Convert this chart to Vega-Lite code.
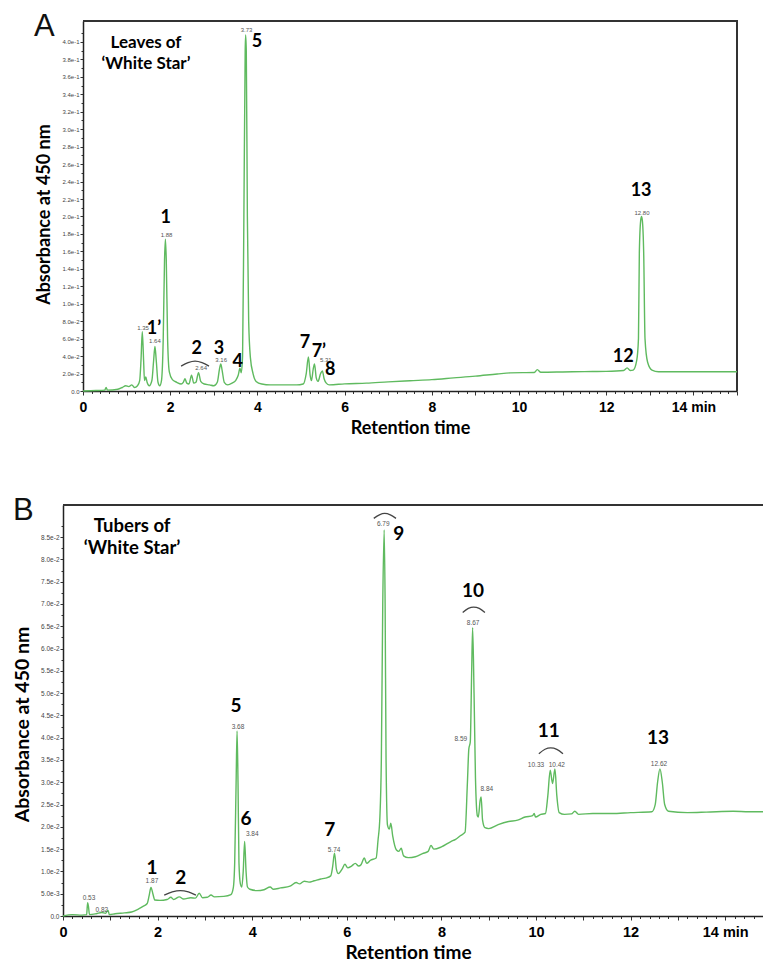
{
  "$schema": "https://vega.github.io/schema/vega-lite/v6.json",
  "background": "white",
  "padding": {"left": 12, "top": 11, "right": 0, "bottom": 0},
  "spacing": 58,
  "config": {
    "font": "Lato",
    "axis": {"grid": false, "domainColor": "#222", "domainWidth": 1.5, "tickColor": "#333", "labelColor": "#000", "titleColor": "#000"},
    "view": {"stroke": null}
  },
  "datasets": {
    "A_trace": [
      {"t":0,"a":0},{"t":0.3,"a":0.0005},{"t":0.5,"a":0.001},{"t":0.53,"a":0.004},{"t":0.56,"a":0.001},{"t":0.8,"a":0.002},{"t":0.9,"a":0.004},{"t":0.98,"a":0.006},{"t":1.05,"a":0.005},{"t":1.12,"a":0.007},{"t":1.18,"a":0.004},{"t":1.25,"a":0.006},{"t":1.3,"a":0.012},{"t":1.33,"a":0.035},{"t":1.36,"a":0.068},{"t":1.39,"a":0.035},{"t":1.41,"a":0.012},{"t":1.44,"a":0.016},{"t":1.47,"a":0.01},{"t":1.52,"a":0.006},{"t":1.58,"a":0.012},{"t":1.62,"a":0.035},{"t":1.65,"a":0.051},{"t":1.68,"a":0.035},{"t":1.72,"a":0.01},{"t":1.76,"a":0.006},{"t":1.8,"a":0.012},{"t":1.84,"a":0.06},{"t":1.87,"a":0.15},{"t":1.89,"a":0.174},{"t":1.91,"a":0.15},{"t":1.94,"a":0.06},{"t":1.98,"a":0.022},{"t":2.05,"a":0.013},{"t":2.15,"a":0.01},{"t":2.25,"a":0.008},{"t":2.3,"a":0.01},{"t":2.34,"a":0.014},{"t":2.38,"a":0.009},{"t":2.43,"a":0.008},{"t":2.49,"a":0.018},{"t":2.54,"a":0.009},{"t":2.59,"a":0.01},{"t":2.65,"a":0.021},{"t":2.7,"a":0.011},{"t":2.78,"a":0.008},{"t":2.9,"a":0.007},{"t":3.0,"a":0.006},{"t":3.08,"a":0.01},{"t":3.13,"a":0.025},{"t":3.16,"a":0.031},{"t":3.19,"a":0.024},{"t":3.24,"a":0.01},{"t":3.32,"a":0.007},{"t":3.42,"a":0.009},{"t":3.5,"a":0.012},{"t":3.56,"a":0.018},{"t":3.6,"a":0.026},{"t":3.63,"a":0.021},{"t":3.66,"a":0.04},{"t":3.69,"a":0.2},{"t":3.72,"a":0.39},{"t":3.73,"a":0.408},{"t":3.745,"a":0.39},{"t":3.77,"a":0.2},{"t":3.8,"a":0.08},{"t":3.84,"a":0.038},{"t":3.9,"a":0.02},{"t":3.97,"a":0.011},{"t":4.1,"a":0.008},{"t":4.3,"a":0.007},{"t":4.6,"a":0.007},{"t":4.9,"a":0.007},{"t":5.05,"a":0.008},{"t":5.12,"a":0.02},{"t":5.17,"a":0.039},{"t":5.21,"a":0.018},{"t":5.24,"a":0.012},{"t":5.28,"a":0.025},{"t":5.31,"a":0.031},{"t":5.35,"a":0.015},{"t":5.39,"a":0.011},{"t":5.45,"a":0.02},{"t":5.49,"a":0.023},{"t":5.53,"a":0.014},{"t":5.58,"a":0.009},{"t":5.65,"a":0.007},{"t":6.0,"a":0.0082},{"t":6.5,"a":0.009},{"t":7.0,"a":0.0105},{"t":7.5,"a":0.0118},{"t":8.0,"a":0.013},{"t":8.5,"a":0.015},{"t":9.0,"a":0.017},{"t":9.5,"a":0.0195},{"t":9.8,"a":0.0208},{"t":10.35,"a":0.0212},{"t":10.42,"a":0.0245},{"t":10.5,"a":0.0215},{"t":11.0,"a":0.0218},{"t":11.5,"a":0.0222},{"t":12.0,"a":0.0225},{"t":12.4,"a":0.0235},{"t":12.48,"a":0.0265},{"t":12.55,"a":0.0235},{"t":12.62,"a":0.024},{"t":12.7,"a":0.035},{"t":12.74,"a":0.06},{"t":12.76,"a":0.158},{"t":12.79,"a":0.195},{"t":12.81,"a":0.2},{"t":12.83,"a":0.195},{"t":12.86,"a":0.158},{"t":12.89,"a":0.06},{"t":12.95,"a":0.033},{"t":13.05,"a":0.024},{"t":13.2,"a":0.022},{"t":13.6,"a":0.022},{"t":14.0,"a":0.022},{"t":14.5,"a":0.022},{"t":15,"a":0.022}
    ],
    "A_peaks": [
      {"t":1.9,"a":0.198,"label":"1"},{"t":1.63,"a":0.071,"label":"1’"},{"t":2.61,"a":0.048,"label":"2"},{"t":3.12,"a":0.048,"label":"3"},{"t":3.55,"a":0.033,"label":"4"},{"t":3.99,"a":0.4,"label":"5"},{"t":5.09,"a":0.055,"label":"7"},{"t":5.41,"a":0.045,"label":"7’"},{"t":5.67,"a":0.024,"label":"8"},{"t":12.39,"a":0.039,"label":"12"},{"t":12.8,"a":0.229,"label":"13"}
    ],
    "A_rt": [
      {"t":1.376,"a":0.072,"label":"1.35"},{"t":1.65,"a":0.057,"label":"1.64"},{"t":1.915,"a":0.179,"label":"1.88"},{"t":2.71,"a":0.026,"label":"2.64"},{"t":3.17,"a":0.036,"label":"3.16"},{"t":3.75,"a":0.414,"label":"3.73"},{"t":5.57,"a":0.036,"label":"5.31"},{"t":12.82,"a":0.204,"label":"12.80"}
    ],
    "A_arcs": [
      {"arc":"a2","t":2.25,"a":0.0285},{"arc":"a2","t":2.41,"a":0.0325},{"arc":"a2","t":2.57,"a":0.0342},{"arc":"a2","t":2.73,"a":0.0325},{"arc":"a2","t":2.89,"a":0.0285}
    ],
    "A_frame": [{"t":0,"a":0.424},{"t":15,"a":0.424},{"t":15,"a":0}],
    "A_note": [{"t":1.445,"a":0.3985,"label":"Leaves of\n‘White Star’"}],
    "B_trace": [
      {"t":0,"a":0},{"t":0.2,"a":0.0003},{"t":0.4,"a":0.0002},{"t":0.5,"a":0.0003},{"t":0.52,"a":0.003},{"t":0.54,"a":0.002},{"t":0.56,"a":0.0003},{"t":0.7,"a":0.0005},{"t":0.82,"a":0.0008},{"t":0.9,"a":0.0006},{"t":0.95,"a":0.0013},{"t":0.98,"a":0.0003},{"t":1.1,"a":0.0005},{"t":1.3,"a":0.0007},{"t":1.45,"a":0.0009},{"t":1.6,"a":0.0016},{"t":1.7,"a":0.0022},{"t":1.78,"a":0.0028},{"t":1.82,"a":0.0045},{"t":1.86,"a":0.0064},{"t":1.9,"a":0.005},{"t":1.94,"a":0.0036},{"t":2.05,"a":0.0035},{"t":2.2,"a":0.0037},{"t":2.28,"a":0.0042},{"t":2.34,"a":0.0037},{"t":2.46,"a":0.0043},{"t":2.55,"a":0.0038},{"t":2.7,"a":0.0041},{"t":2.8,"a":0.004},{"t":2.88,"a":0.0051},{"t":2.95,"a":0.0041},{"t":3.05,"a":0.0042},{"t":3.13,"a":0.0047},{"t":3.2,"a":0.0043},{"t":3.4,"a":0.0044},{"t":3.55,"a":0.0048},{"t":3.6,"a":0.0063},{"t":3.63,"a":0.012},{"t":3.66,"a":0.03},{"t":3.68,"a":0.0415},{"t":3.7,"a":0.03},{"t":3.72,"a":0.012},{"t":3.75,"a":0.0072},{"t":3.78,"a":0.0065},{"t":3.81,"a":0.01},{"t":3.84,"a":0.0167},{"t":3.87,"a":0.01},{"t":3.9,"a":0.0065},{"t":3.95,"a":0.006},{"t":4.1,"a":0.0057},{"t":4.25,"a":0.0059},{"t":4.38,"a":0.0065},{"t":4.45,"a":0.006},{"t":4.6,"a":0.0063},{"t":4.8,"a":0.0067},{"t":4.93,"a":0.0075},{"t":5.0,"a":0.0072},{"t":5.1,"a":0.0078},{"t":5.2,"a":0.0076},{"t":5.31,"a":0.0079},{"t":5.45,"a":0.0083},{"t":5.55,"a":0.0085},{"t":5.66,"a":0.009},{"t":5.7,"a":0.011},{"t":5.74,"a":0.0141},{"t":5.78,"a":0.0105},{"t":5.82,"a":0.0095},{"t":5.9,"a":0.0105},{"t":5.96,"a":0.0116},{"t":6.02,"a":0.0108},{"t":6.1,"a":0.0112},{"t":6.18,"a":0.0118},{"t":6.25,"a":0.0112},{"t":6.3,"a":0.0115},{"t":6.37,"a":0.013},{"t":6.42,"a":0.0118},{"t":6.5,"a":0.0125},{"t":6.62,"a":0.013},{"t":6.66,"a":0.017},{"t":6.7,"a":0.0223},{"t":6.73,"a":0.035},{"t":6.76,"a":0.07},{"t":6.79,"a":0.0866},{"t":6.81,"a":0.07},{"t":6.83,"a":0.035},{"t":6.86,"a":0.0204},{"t":6.9,"a":0.0195},{"t":6.93,"a":0.0208},{"t":6.97,"a":0.018},{"t":7.05,"a":0.0148},{"t":7.1,"a":0.0145},{"t":7.15,"a":0.0152},{"t":7.2,"a":0.0135},{"t":7.3,"a":0.0131},{"t":7.45,"a":0.0133},{"t":7.6,"a":0.014},{"t":7.72,"a":0.0145},{"t":7.78,"a":0.0158},{"t":7.84,"a":0.015},{"t":8.0,"a":0.0155},{"t":8.2,"a":0.0167},{"t":8.3,"a":0.0172},{"t":8.4,"a":0.018},{"t":8.5,"a":0.0188},{"t":8.55,"a":0.03},{"t":8.58,"a":0.0375},{"t":8.61,"a":0.039},{"t":8.64,"a":0.055},{"t":8.66,"a":0.0647},{"t":8.69,"a":0.05},{"t":8.72,"a":0.031},{"t":8.76,"a":0.0225},{"t":8.78,"a":0.0222},{"t":8.82,"a":0.026},{"t":8.84,"a":0.0267},{"t":8.87,"a":0.0215},{"t":8.92,"a":0.0198},{"t":9.0,"a":0.0196},{"t":9.2,"a":0.0205},{"t":9.42,"a":0.0212},{"t":9.61,"a":0.0215},{"t":9.77,"a":0.0222},{"t":9.93,"a":0.0225},{"t":9.96,"a":0.023},{"t":9.99,"a":0.0222},{"t":10.1,"a":0.0228},{"t":10.2,"a":0.023},{"t":10.25,"a":0.027},{"t":10.3,"a":0.0327},{"t":10.35,"a":0.0297},{"t":10.4,"a":0.033},{"t":10.44,"a":0.027},{"t":10.49,"a":0.0232},{"t":10.6,"a":0.0228},{"t":10.75,"a":0.0229},{"t":10.82,"a":0.0235},{"t":10.9,"a":0.0228},{"t":11.2,"a":0.023},{"t":11.6,"a":0.023},{"t":12.0,"a":0.0232},{"t":12.45,"a":0.0234},{"t":12.52,"a":0.025},{"t":12.57,"a":0.03},{"t":12.62,"a":0.033},{"t":12.67,"a":0.03},{"t":12.72,"a":0.025},{"t":12.8,"a":0.0235},{"t":13.2,"a":0.0232},{"t":13.6,"a":0.0233},{"t":14.17,"a":0.0235},{"t":14.5,"a":0.0234},{"t":14.82,"a":0.0234}
    ],
    "B_peaks": [
      {"t":1.88,"a":0.0107,"label":"1"},{"t":2.49,"a":0.0085,"label":"2"},{"t":3.66,"a":0.0471,"label":"5"},{"t":3.87,"a":0.0217,"label":"6"},{"t":5.64,"a":0.0192,"label":"7"},{"t":7.1,"a":0.0857,"label":"9"},{"t":8.67,"a":0.0728,"label":"10"},{"t":10.27,"a":0.0415,"label":"11"},{"t":12.58,"a":0.04,"label":"13"}
    ],
    "B_rt": [
      {"t":0.55,"a":0.004,"label":"0.53"},{"t":0.82,"a":0.0013,"label":"0.82"},{"t":1.88,"a":0.0078,"label":"1.87"},{"t":3.7,"a":0.0424,"label":"3.68"},{"t":4.0,"a":0.0185,"label":"3.84"},{"t":5.73,"a":0.0147,"label":"5.74"},{"t":6.77,"a":0.0879,"label":"6.79"},{"t":8.41,"a":0.0397,"label":"8.59"},{"t":8.67,"a":0.0658,"label":"8.67"},{"t":8.96,"a":0.0286,"label":"8.84"},{"t":10.0,"a":0.0339,"label":"10.33"},{"t":10.44,"a":0.0339,"label":"10.42"},{"t":12.6,"a":0.0342,"label":"12.62"}
    ],
    "B_arcs": [
      {"arc":"b2","t":2.14,"a":0.0047},{"arc":"b2","t":2.31,"a":0.0054},{"arc":"b2","t":2.48,"a":0.0057},{"arc":"b2","t":2.65,"a":0.0054},{"arc":"b2","t":2.81,"a":0.0047},
      {"arc":"b9","t":6.57,"a":0.0892},{"arc":"b9","t":6.69,"a":0.09},{"arc":"b9","t":6.8,"a":0.0903},{"arc":"b9","t":6.92,"a":0.09},{"arc":"b9","t":7.04,"a":0.0892},
      {"arc":"b10","t":8.45,"a":0.0681},{"arc":"b10","t":8.57,"a":0.069},{"arc":"b10","t":8.68,"a":0.0693},{"arc":"b10","t":8.8,"a":0.069},{"arc":"b10","t":8.92,"a":0.0681},
      {"arc":"b11","t":10.06,"a":0.0364},{"arc":"b11","t":10.19,"a":0.0374},{"arc":"b11","t":10.31,"a":0.0377},{"arc":"b11","t":10.44,"a":0.0374},{"arc":"b11","t":10.57,"a":0.0364}
    ],
    "B_frame": [{"t":0,"a":0.0922},{"t":14.82,"a":0.0922}],
    "B_note": [{"t":1.46,"a":0.0875,"label":"Tubers of\n‘White Star’"}]
  },
  "vconcat": [
    {
      "width": 674,
      "height": 370,
      "view": {"stroke": null},
      "title": {"text": "A", "anchor": "start", "frame": "group", "font": "Liberation Sans", "fontSize": 31, "fontWeight": "normal", "color": "#111", "baseline": "top", "offset": 0, "dx": -29, "dy": 26},
      "encoding": {
        "x": {"field": "t", "type": "quantitative", "scale": {"domain": [0, 15], "range": [20, 674], "nice": false, "zero": false},
          "axis": {"orient": "bottom",
            "values": [0,0.2,0.4,0.6,0.8,1,1.2,1.4,1.6,1.8,2,2.2,2.4,2.6,2.8,3,3.2,3.4,3.6,3.8,4,4.2,4.4,4.6,4.8,5,5.2,5.4,5.6,5.8,6,6.2,6.4,6.6,6.8,7,7.2,7.4,7.6,7.8,8,8.2,8.4,8.6,8.8,9,9.2,9.4,9.6,9.8,10,10.2,10.4,10.6,10.8,11,11.2,11.4,11.6,11.8,12,12.2,12.4,12.6,12.8,13,13.2,13.4,13.6,13.8,14,14.2,14.4,14.6,14.8,15],
            "labelExpr": "datum.value == 14 ? '14 min' : ((abs(datum.value/2 - round(datum.value/2)) < 0.001 && datum.value < 13) ? format(datum.value, 'd') : '')",
            "labelFont": "Liberation Sans", "labelFontWeight": "bold", "labelFontSize": 14, "labelPadding": 5,
            "labelFlush": false, "labelOverlap": false, "labelBound": false,
            "tickSize": {"condition": {"test": "abs(datum.value - round(datum.value)) < 0.001", "value": 4}, "value": 2.5},
            "encode": {"labels": {"update": {"align": {"signal": "datum.value == 14 ? 'left' : 'center'"}, "dx": {"signal": "datum.value == 14 ? -8 : 0"}}}},
            "title": "Retention time", "titleFont": "Lato", "titleFontSize": 18, "titleFontWeight": "bold", "titlePadding": 5}},
        "y": {"field": "a", "type": "quantitative", "scale": {"domain": [0, 0.424], "nice": false},
          "axis": {"orient": "left", "offset": -20,
            "values": [0,0.01,0.02,0.03,0.04,0.05,0.06,0.07,0.08,0.09,0.1,0.11,0.12,0.13,0.14,0.15,0.16,0.17,0.18,0.19,0.2,0.21,0.22,0.23,0.24,0.25,0.26,0.27,0.28,0.29,0.3,0.31,0.32,0.33,0.34,0.35,0.36,0.37,0.38,0.39,0.4,0.41],
            "labelExpr": "abs(datum.value*50 - round(datum.value*50)) < 0.001 ? (datum.value < 0.0001 ? '0.0' : format(datum.value, '.1e')) : ''",
            "labelFont": "Liberation Sans", "labelFontSize": 6, "labelColor": "#444", "labelPadding": 1,
            "labelFlush": false, "labelOverlap": false, "labelBound": false,
            "tickSize": {"condition": {"test": "abs(datum.value*50 - round(datum.value*50)) < 0.001", "value": 3}, "value": 2},
            "title": "Absorbance at 450 nm", "titleFont": "Lato", "titleFontSize": 18, "titleFontWeight": "bold", "titlePadding": 8, "titleY": 193}}
      },
      "layer": [
        {"data": {"name": "A_frame"}, "mark": {"type": "line", "color": "#333", "strokeWidth": 2, "interpolate": "linear"}},
        {"data": {"name": "A_trace"}, "mark": {"type": "line", "color": "#5fba5f", "strokeWidth": 1.4, "interpolate": "monotone"}},
        {"data": {"name": "A_arcs"}, "mark": {"type": "line", "color": "#444", "strokeWidth": 1.3, "interpolate": "monotone"}, "encoding": {"detail": {"field": "arc"}}},
        {"data": {"name": "A_rt"}, "mark": {"type": "text", "font": "Liberation Sans", "fontSize": 6, "color": "#555", "align": "center", "baseline": "middle"}, "encoding": {"text": {"field": "label"}}},
        {"data": {"name": "A_peaks"}, "mark": {"type": "text", "font": "Lato", "fontSize": 18, "fontWeight": "bold", "color": "#000", "align": "center", "baseline": "middle"}, "encoding": {"text": {"field": "label"}}},
        {"data": {"name": "A_note"}, "mark": {"type": "text", "font": "Lato", "fontSize": 17, "fontWeight": "bold", "color": "#000", "align": "center", "baseline": "middle", "lineBreak": "\n", "lineHeight": 21}, "encoding": {"text": {"field": "label"}}}
      ]
    },
    {
      "width": 701,
      "height": 411,
      "view": {"stroke": null},
      "title": {"text": "B", "anchor": "start", "frame": "group", "font": "Liberation Sans", "fontSize": 31, "fontWeight": "normal", "color": "#111", "baseline": "top", "offset": 0, "dx": -50, "dy": 26},
      "encoding": {
        "x": {"field": "t", "type": "quantitative", "scale": {"domain": [0, 14.82], "nice": false, "zero": false},
          "axis": {"orient": "bottom",
            "values": [0,0.2,0.4,0.6,0.8,1,1.2,1.4,1.6,1.8,2,2.2,2.4,2.6,2.8,3,3.2,3.4,3.6,3.8,4,4.2,4.4,4.6,4.8,5,5.2,5.4,5.6,5.8,6,6.2,6.4,6.6,6.8,7,7.2,7.4,7.6,7.8,8,8.2,8.4,8.6,8.8,9,9.2,9.4,9.6,9.8,10,10.2,10.4,10.6,10.8,11,11.2,11.4,11.6,11.8,12,12.2,12.4,12.6,12.8,13,13.2,13.4,13.6,13.8,14,14.2,14.4,14.6,14.8],
            "labelExpr": "datum.value == 14 ? '14 min' : ((abs(datum.value/2 - round(datum.value/2)) < 0.001 && datum.value < 13) ? format(datum.value, 'd') : '')",
            "labelFont": "Liberation Sans", "labelFontWeight": "bold", "labelFontSize": 14.5, "labelPadding": 5,
            "labelFlush": false, "labelOverlap": false, "labelBound": false,
            "tickSize": {"condition": {"test": "abs(datum.value - round(datum.value)) < 0.001", "value": 4}, "value": 2.5},
            "encode": {"labels": {"update": {"align": {"signal": "datum.value == 14 ? 'left' : 'center'"}, "dx": {"signal": "datum.value == 14 ? -8 : 0"}}}},
            "title": "Retention time", "titleFont": "Lato", "titleFontSize": 19, "titleFontWeight": "bold", "titlePadding": 5, "titleX": 345}},
        "y": {"field": "a", "type": "quantitative", "scale": {"domain": [0, 0.0922], "nice": false},
          "axis": {"orient": "left",
            "values": [0,0.0025,0.005,0.0075,0.01,0.0125,0.015,0.0175,0.02,0.0225,0.025,0.0275,0.03,0.0325,0.035,0.0375,0.04,0.0425,0.045,0.0475,0.05,0.0525,0.055,0.0575,0.06,0.0625,0.065,0.0675,0.07,0.0725,0.075,0.0775,0.08,0.0825,0.085,0.0875],
            "labelExpr": "abs(datum.value*200 - round(datum.value*200)) < 0.001 ? (datum.value < 0.00001 ? '0.0' : format(datum.value, '.1e')) : ''",
            "labelFont": "Liberation Sans", "labelFontSize": 6.5, "labelColor": "#444", "labelPadding": 1,
            "labelFlush": false, "labelOverlap": false, "labelBound": false,
            "tickSize": {"condition": {"test": "abs(datum.value*200 - round(datum.value*200)) < 0.001", "value": 3}, "value": 2},
            "title": "Absorbance at 450 nm", "titleFont": "Lato", "titleFontSize": 19.5, "titleFontWeight": "bold", "titlePadding": 8, "titleY": 219}}
      },
      "layer": [
        {"data": {"name": "B_frame"}, "mark": {"type": "line", "color": "#333", "strokeWidth": 2, "interpolate": "linear"}},
        {"data": {"name": "B_trace"}, "mark": {"type": "line", "color": "#5fba5f", "strokeWidth": 1.4, "interpolate": "monotone"}},
        {"data": {"name": "B_arcs"}, "mark": {"type": "line", "color": "#444", "strokeWidth": 1.3, "interpolate": "monotone"}, "encoding": {"detail": {"field": "arc"}}},
        {"data": {"name": "B_rt"}, "mark": {"type": "text", "font": "Liberation Sans", "fontSize": 6.5, "color": "#555", "align": "center", "baseline": "middle"}, "encoding": {"text": {"field": "label"}}},
        {"data": {"name": "B_peaks"}, "mark": {"type": "text", "font": "Lato", "fontSize": 19, "fontWeight": "bold", "color": "#000", "align": "center", "baseline": "middle"}, "encoding": {"text": {"field": "label"}}},
        {"data": {"name": "B_note"}, "mark": {"type": "text", "font": "Lato", "fontSize": 18.5, "fontWeight": "bold", "color": "#000", "align": "center", "baseline": "middle", "lineBreak": "\n", "lineHeight": 22}, "encoding": {"text": {"field": "label"}}}
      ]
    }
  ]
}
